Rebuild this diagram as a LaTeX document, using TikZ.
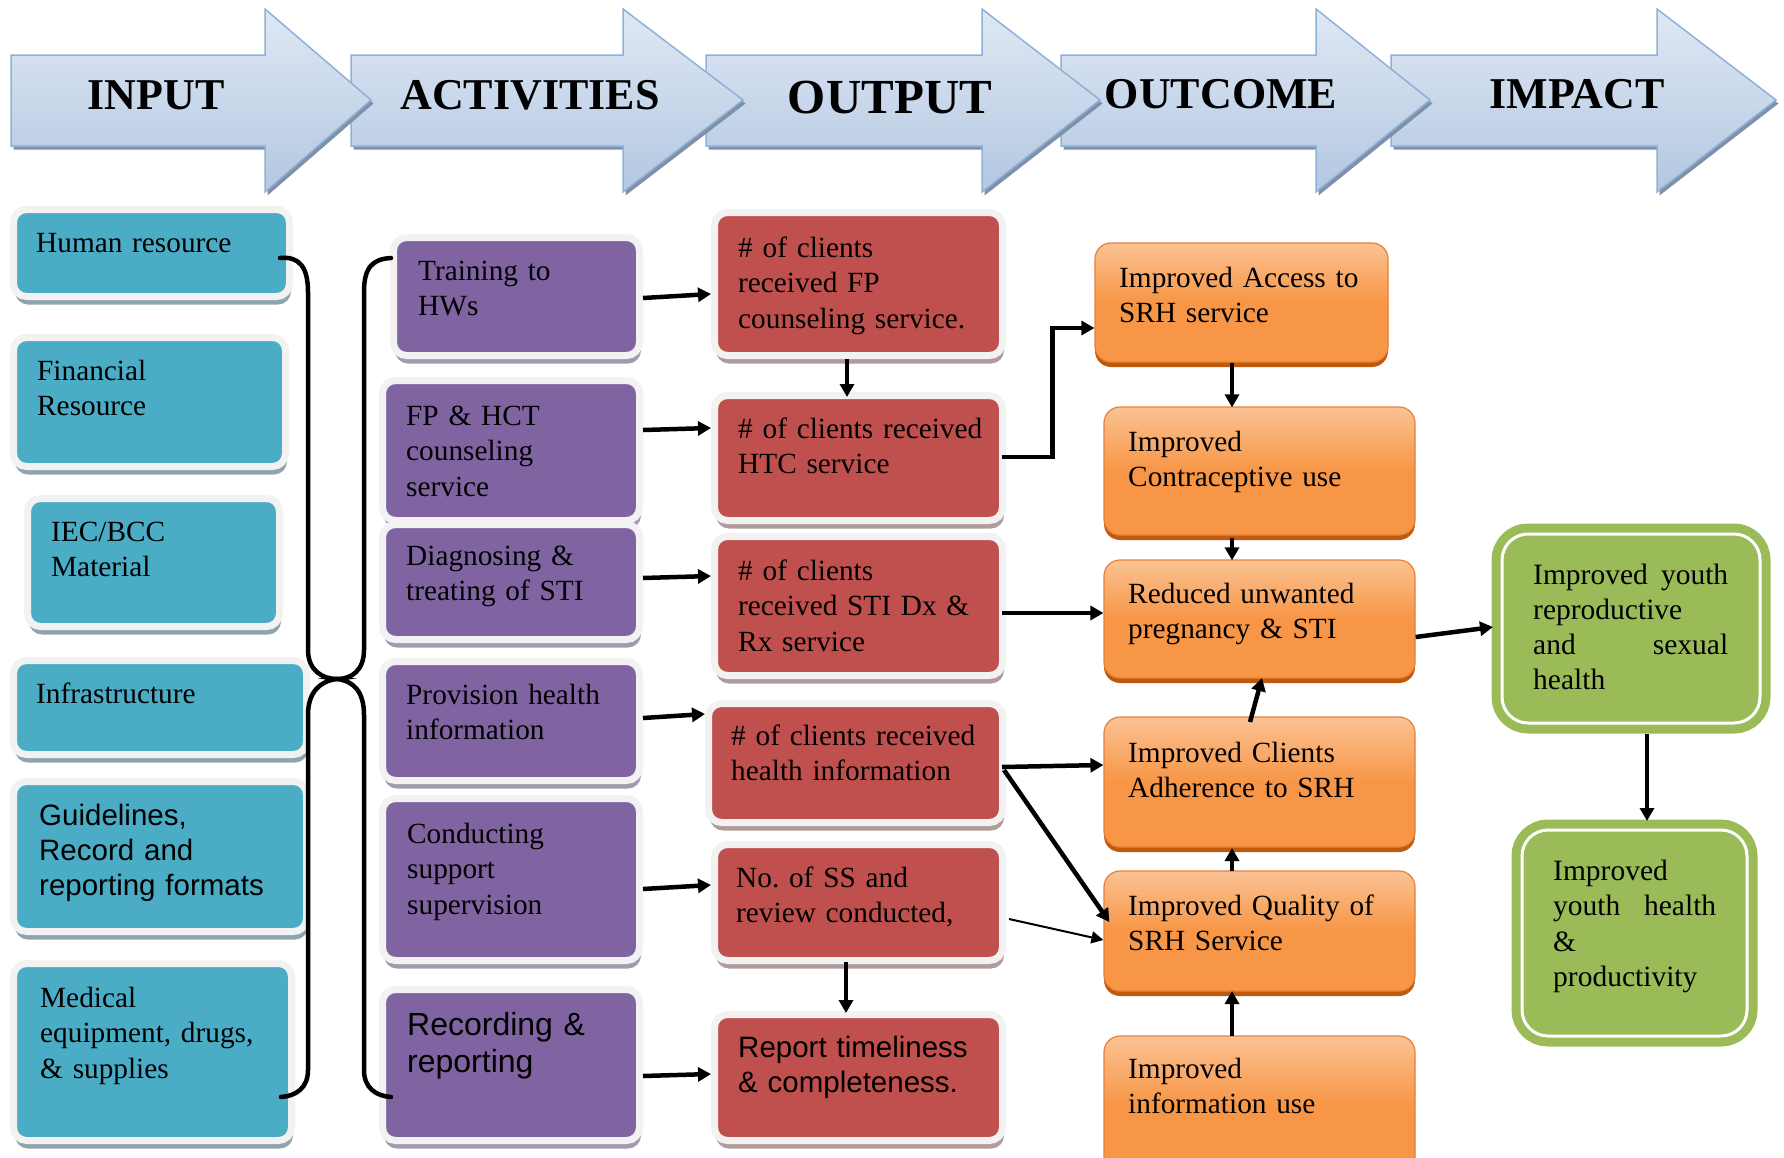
\documentclass[tikz,border=0pt]{standalone}
\usepackage{fontspec}
\setmainfont{Liberation Serif}
\newfontfamily\arialf{Liberation Sans}
\usetikzlibrary{arrows.meta,shadows,fit,calc}
\frenchspacing
\definecolor{cteal}{HTML}{4BACC6}
\definecolor{cpurple}{HTML}{8064A2}
\definecolor{cred}{HTML}{C0504D}
\definecolor{corange}{HTML}{F79646}
\definecolor{corlight}{HTML}{FBC293}
\definecolor{cordark}{HTML}{BE5A0E}
\definecolor{orline}{HTML}{E8803A}
\definecolor{cgreen}{HTML}{9BBB59}
\definecolor{rim}{HTML}{F2F2F2}
\definecolor{tealsh}{HTML}{8FA5AE}
\definecolor{pursh}{HTML}{A49AB0}
\definecolor{redsh}{HTML}{B09A9A}
\definecolor{hfillA}{HTML}{DFE8F4}
\definecolor{hfillB}{HTML}{B3C7E1}
\definecolor{hedge}{HTML}{8FB0D8}
\definecolor{hshadow}{HTML}{7F91A9}
\newcommand\hdrarrow[3]{%
  \begin{scope}[shift={(2.5,3.5)}]
    \fill[hshadow] (#1,55) -- (#2,55) -- (#2,9) -- (#3,100) -- (#2,192) -- (#2,146) -- (#1,146) -- cycle;
  \end{scope}
  \shadedraw[top color=hfillA, bottom color=hfillB, draw=hedge, line width=1.5pt, line join=miter]
    (#1,55) -- (#2,55) -- (#2,9) -- (#3,100) -- (#2,192) -- (#2,146) -- (#1,146) -- cycle;
}
\begin{document}
\begin{tikzpicture}[x=1pt,y=-1pt,
  rimbox/.style={rounded corners=13pt, inner sep=3.5pt, line width=7pt, draw=rim},
  tealbox/.style={rimbox, fill=cteal, drop shadow={shadow xshift=1.5pt, shadow yshift=-8pt, fill=tealsh, opacity=1}},
  purbox/.style={rimbox, fill=cpurple, drop shadow={shadow xshift=1.5pt, shadow yshift=-8pt, fill=pursh, opacity=1}},
  redbox/.style={rimbox, fill=cred, drop shadow={shadow xshift=1.5pt, shadow yshift=-8pt, fill=redsh, opacity=1}},
  orbox/.style={rounded corners=16pt, inner sep=0pt, line width=1.2pt, draw=orline, top color=corlight, bottom color=corange, middle color=corange, drop shadow={shadow xshift=0pt, shadow yshift=-5pt, fill=cordark, opacity=1}},
  grbox/.style={rounded corners=26pt, inner sep=0pt, line width=3pt, draw=white, fill=cgreen, preaction={draw=cgreen, line width=21pt}},
  txt/.style={anchor=base west, inner sep=0pt, text width=300pt, align=left, font=\fontsize{29.3}{35.5}\selectfont},
  hdr/.style={anchor=base, inner sep=0pt, font=\bfseries\fontsize{44}{50}\selectfont},
  arr/.style={line width=4.5pt, -{Triangle[length=13pt,width=14pt]}},
  thinarr/.style={line width=2pt, -{Triangle[length=12pt,width=12pt]}},
  bracepath/.style={line width=4.5pt, line cap=round}
]
\useasboundingbox (0,0) rectangle (1784,1157);
\clip (0,0) rectangle (1784,1157);

% ---------- header arrows ----------
\hdrarrow{1391}{1657}{1776}
\hdrarrow{1061}{1316}{1430}
\hdrarrow{706}{982}{1100}
\hdrarrow{351}{623}{743}
\hdrarrow{11}{265}{371}
\node[hdr] (h-input) at (156,109) {INPUT};
\node[hdr] (h-act) at (530,109) {ACTIVITIES};
\node[hdr, font=\bfseries\fontsize{49}{55}\selectfont] (h-output) at (890,113) {OUTPUT};
\node[hdr] (h-outcome) at (1221,108) {OUTCOME};
\node[hdr] (h-impact) at (1577,108) {IMPACT};

% ---------- input boxes ----------
\node[tealbox, fit={(17,213)(286,293)}] (hr) {};
\node[tealbox, fit={(17,341)(282,463)}] (fin) {};
\node[tealbox, fit={(31,502)(276,623)}] (iec) {};
\node[tealbox, fit={(17,664)(303,751)}] (infra) {};
\node[tealbox, fit={(17,785)(303,928)}] (guide) {};
\node[tealbox, fit={(17,967)(288,1137)}] (med) {};
\node[txt] (t-hr) at (36,252) {Human resource};
\node[txt] (t-fin) at (37,380) {Financial\\Resource};
\node[txt] (t-iec) at (51,541) {IEC/BCC\\Material};
\node[txt] (t-infra) at (36,703) {Infrastructure};
\node[txt, font=\arialf\fontsize{29.5}{35}\selectfont] (t-guide) at (39,825) {Guidelines,\\Record and\\reporting formats};
\node[txt] (t-med) at (40,1007) {Medical\\equipment, drugs,\\\& supplies};

% ---------- activity boxes ----------
\node[purbox, fit={(397,241)(636,352)}] (train) {};
\node[purbox, fit={(386,384)(636,517)}] (fphct) {};
\node[purbox, fit={(386,528)(636,636)}] (diag) {};
\node[purbox, fit={(386,665)(636,777)}] (prov) {};
\node[purbox, fit={(386,802)(636,957)}] (cond) {};
\node[purbox, fit={(386,993)(636,1137)}] (rec) {};
\node[txt] (t-train) at (418,280) {Training to\\HWs};
\node[txt] (t-fphct) at (406,425) {FP \& HCT\\counseling\\service};
\node[txt] (t-diag) at (406,565) {Diagnosing \&\\treating of STI};
\node[txt] (t-prov) at (406,704) {Provision health\\information};
\node[txt] (t-cond) at (407,843) {Conducting\\support\\supervision};
\node[txt, font=\arialf\fontsize{32}{37}\selectfont] (t-rec) at (407,1035) {Recording \&\\reporting};

% ---------- output boxes ----------
\node[redbox, fit={(718,216)(999,352)}] (r1) {};
\node[redbox, fit={(718,399)(999,517)}] (r2) {};
\node[redbox, fit={(718,540)(999,672)}] (r3) {};
\node[redbox, fit={(712,707)(999,819)}] (r4) {};
\node[redbox, fit={(718,848)(999,957)}] (r5) {};
\node[redbox, fit={(718,1018)(999,1137)}] (r6) {};
\node[txt] (t-r1) at (738,257) {\# of clients\\received FP\\counseling service.};
\node[txt] (t-r2) at (738,438) {\# of clients received\\HTC service};
\node[txt] (t-r3) at (738,580) {\# of clients\\received STI Dx \&\\Rx service};
\node[txt] (t-r4) at (731,745) {\# of clients received\\health information};
\node[txt] (t-r5) at (736,887) {No. of SS and\\review conducted,};
\node[txt, font=\arialf\fontsize{29.5}{35}\selectfont] (t-r6) at (738,1057) {Report timeliness\\\& completeness.};

% ---------- outcome boxes ----------
\node[orbox, fit={(1095,243)(1388,362)}] (o1) {};
\node[orbox, fit={(1104,407)(1415,535)}] (o2) {};
\node[orbox, fit={(1104,560)(1415,678)}] (o3) {};
\node[orbox, fit={(1104,717)(1415,847)}] (o4) {};
\node[orbox, fit={(1104,871)(1415,991)}] (o5) {};
\node[orbox, fit={(1104,1036)(1415,1175)}] (o6) {};
\node[txt] (t-o1) at (1119,287) {Improved Access to\\SRH service};
\node[txt] (t-o2) at (1128,451) {Improved\\Contraceptive use};
\node[txt] (t-o3) at (1128,603) {Reduced unwanted\\pregnancy \& STI};
\node[txt] (t-o4) at (1128,762) {Improved Clients\\Adherence to SRH};
\node[txt] (t-o5) at (1128,915) {Improved Quality of\\SRH Service};
\node[txt] (t-o6) at (1128,1078) {Improved\\information use};

% ---------- impact boxes ----------
\node[grbox, fit={(1502,534)(1760,723)}] (g1) {};
\node[grbox, fit={(1522,830)(1747,1036)}] (g2) {};
\node[txt, text width=195pt, font=\fontsize{29.5}{35}\selectfont] (t-g1) at (1533,584) {Improved\hfill youth\\reproductive\\and\hfill sexual\\health};
\node[txt, text width=163pt, font=\fontsize{29.5}{35.5}\selectfont] (t-g2) at (1553,880) {Improved\\youth\hfill health\\\&\\productivity};

% ---------- braces ----------
\coordinate (btip) at (337,679);
\draw[bracepath] ($(hr.east)+(-13,5)$) .. controls (300,256) and (308,268) .. (308,292)
  -- (308,650) .. controls (308,670) and (322,679) .. (btip)
  .. controls (320,681) and (308,692) .. (308,715)
  -- (308,1070) .. controls (308,1088) and (296,1096) .. ($(med.east)+(-14,45)$);
\draw[bracepath] ($(train.west)+(1,-38.5)$) .. controls (372,259) and (364,268) .. (364,292)
  -- (364,650) .. controls (364,670) and (352,679) .. (btip)
  .. controls (354,681) and (364,692) .. (364,715)
  -- (364,1070) .. controls (364,1088) and (376,1096) .. ($(rec.west)+(12,32)$);

% ---------- connectors ----------
\draw[arr] ($(train.east)+(0,1.5)$) -- ($(r1.west)+(0,10)$);
\draw[arr] ($(fphct.east)+(0,-20.5)$) -- ($(r2.west)+(0,-30)$);
\draw[arr] ($(diag.east)+(0,-4)$) -- ($(r3.west)+(0,-30)$);
\draw[arr] ($(prov.east)+(0,-3)$) -- ($(r4.west)+(0,-49)$);
\draw[arr] ($(cond.east)+(0,9.5)$) -- ($(r5.west)+(0,-17.5)$);
\draw[arr] ($(rec.east)+(0,11)$) -- ($(r6.west)+(0,-3.5)$);
\draw[arr] ($(r1.south)+(-11.5,0)$) -- ($(r2.north)+(-11.5,5)$);
\draw[arr] ($(r5.south)+(-12.5,-2)$) -- ($(r6.north)+(-12.5,2)$);
\draw[arr, line join=miter] ($(r2.east)+(-4,-1)$) -| ($(o1.west)+(-42,25.5)$) -- ($(o1.west)+(0,25.5)$);
\draw[arr] ($(r3.east)+(-4,7)$) -- ($(o3.west)+(0,-6)$);
\draw[arr] ($(o1.south)+(-9.5,0)$) -- ($(o2.north)+(-27.5,1)$);
\draw[arr] ($(o2.south)+(-27.5,2)$) -- ($(o3.north)+(-27.5,1)$);
\draw[arr] ($(r4.east)+(-4,4)$) -- ($(o4.west)+(0,-17)$);
\draw[arr] ($(r4.east)+(-2,7)$) -- ($(o5.west)+(6,-9)$);
\draw[thinarr] ($(r5.east)+(3,16.5)$) -- ($(o5.west)+(0,9)$);
\draw[arr] ($(o4.north)+(-9.5,5.6)$) -- ($(o3.south)+(2.5,-0.6)$);
\draw[arr] ($(o5.north)+(-27.5,0.6)$) -- ($(o4.south)+(-27.5,0.4)$);
\draw[arr] ($(o6.north)+(-27.5,0.6)$) -- ($(o5.south)+(-27.5,-0.6)$);
\draw[arr] ($(o3.east)+(0,18)$) -- ($(g1.west)+(-7.5,-1.5)$);
\draw[arr] ($(g1.south)+(16,9.5)$) -- ($(g2.north)+(12.5,-7.5)$);
\end{tikzpicture}
\end{document}
